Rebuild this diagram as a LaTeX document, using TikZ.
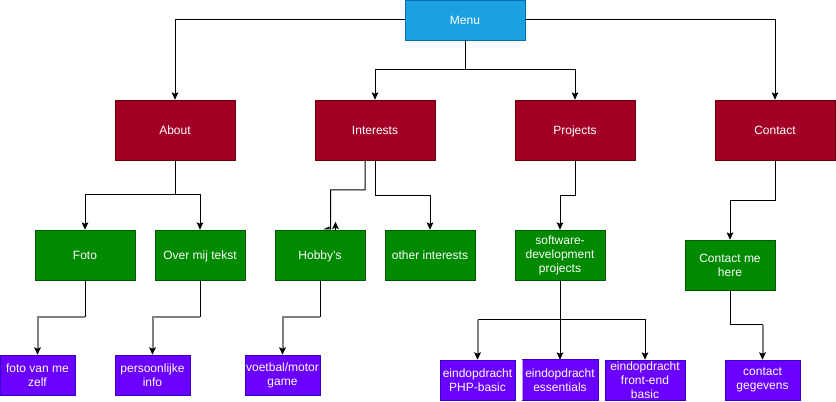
\documentclass[tikz,border=0pt]{standalone}
\usepackage{fontspec}
\setmainfont{Liberation Sans}
\usetikzlibrary{arrows.meta}
\usetikzlibrary{positioning}
\definecolor{menublue}{HTML}{1BA1E2}
\definecolor{menuline}{HTML}{006EAF}
\definecolor{pagered}{HTML}{A20025}
\definecolor{pageline}{HTML}{6F0000}
\definecolor{partgreen}{HTML}{008A00}
\definecolor{partline}{HTML}{005700}
\definecolor{itempurple}{HTML}{6A00FF}
\definecolor{itemline}{HTML}{3700CC}
\definecolor{linkgrey}{HTML}{808080}

\begin{document}
\begin{tikzpicture}[x=0.75pt,y=-0.75pt,line cap=butt,line join=miter,
  every node/.style={text=white,align=center,inner sep=0pt,
    font=\fontsize{9}{10.5}\selectfont},
  oneline/.style={text height=6.6pt,text depth=0pt},
  menubox/.style={oneline,draw=menuline,fill=menublue,minimum width=90pt,minimum height=30pt},
  pagebox/.style={oneline,draw=pageline,fill=pagered,minimum width=90pt,minimum height=45pt},
  partbox/.style={draw=partline,fill=partgreen,minimum width=67.5pt,minimum height=37.5pt},
  itembox/.style={draw=itemline,fill=itempurple,minimum width=56.25pt,minimum height=30pt},
  link/.style={draw=black,line width=0.75pt},
  tip/.style={-{Stealth[length=5.5pt,width=5pt,inset=1pt,color=black]}},
  greylink/.style={draw=linkgrey,line width=1.5pt}]
\useasboundingbox (0,0) rectangle (836,402);
% top
\node[menubox] (menu) at (465,20) {Menu};
% pages
\node[pagebox] (about) at (175,130) {About};
\node[pagebox] (interests) at (375,130) {Interests};
\node[pagebox] (projects) at (575,130) {Projects};
\node[pagebox] (contact) at (775,130) {Contact};
% parts
\node[partbox,oneline,minimum width=75pt] (foto) at (85,255) {Foto};
\node[partbox,oneline] (over) at (200,255) {Over mij tekst};
\node[partbox,oneline] (hobby) at (320,255) {Hobby's};
\node[partbox,oneline] (other) at (430,255) {other interests};
\node[partbox] (soft) at (560,255) {software-\\development\\projects};
\node[partbox] (cmh) at (730,265) {Contact me\\here};
% items
\node[itembox] (fvm) at (37.5,375) {foto van me\\zelf};
\node[itembox] (pers) at (152.5,375) {persoonlijke\\info};
\node[itembox] (voetbal) at (282.5,375) {voetbal/motor\\game};
\node[itembox] (php) at (477.5,380) {eindopdracht\\PHP-basic};
\node[itembox,draw=none] (ess) at (560,380) {eindopdracht\\essentials};
\node[itembox,minimum width=60pt] (fe) at (645,380) {eindopdracht\\front-end\\basic};
\node[itembox] (cg) at (762.5,380) {contact\\gegevens};
\draw[itemline] (ess.north west) -- (ess.north east) -- (ess.south east) -- (ess.south west);
\draw[itempurple!40] (ess.north west) -- (ess.south west);

% menu to pages
\coordinate (mb) at (465,70);
\draw[link,tip] (menu.west) -| (about.north);
\draw[link,tip] (menu.east) -| (contact.north);
\draw[link] (menu.south) -- (mb);
\draw[link,tip] (mb) -| (interests.north);
\draw[link,tip] (mb) -| (projects.north);

% pages to parts
\coordinate (ab) at (175,195);
\draw[link] (about.south) -- (ab);
\draw[link,tip] (ab) -| (foto.north);
\draw[link,tip] (ab) -| (over.north);
\coordinate (ih) at (330.5,190);
\draw[link] ([xshift=-7.5pt]interests.south) |- (ih) -- ([xshift=7.9pt]hobby.north);
\draw[link,tip] ([xshift=11.6pt]hobby.north) -- ++(0,-8);
\fill[black] (323,229.5) -- (329.5,226.5) -- (329.5,229.5) -- cycle;
\draw[link,tip] (interests.south) -- ++(0,35) -| (other.north);
\draw[link,tip] (projects.south) -- ++(0,35) -| (soft.north);
\draw[link,tip] (contact.south) -- ++(0,40) -| (cmh.north);

% parts to items
\coordinate (fc) at (85,317.5);
\draw[link] (foto.south) -- (fc);
\draw[greylink,tip] (fc) -| (fvm.north);
\coordinate (oc) at (200,317.5);
\draw[link] (over.south) -- (oc);
\draw[greylink,tip] (oc) -| (pers.north);
\coordinate (hc) at (320,317.5);
\draw[link] (hobby.south) -- (hc);
\draw[greylink,tip] (hc) -| (voetbal.north);
\coordinate (sc) at (560,320);
\coordinate (sl) at (477.5,320);
\draw[link,tip] (soft.south) -- (ess.north);
\draw[link] (sc) -- (sl);
\draw[greylink,tip] (sl) -- (php.north);
\draw[link,tip] (sc) -| (fe.north);
\coordinate (cc) at (730,325);
\coordinate (cr) at (762.5,325);
\draw[link] (cmh.south) -- (cc) -- (cr);
\draw[greylink,tip] (cr) -- (cg.north);
\end{tikzpicture}
\end{document}
